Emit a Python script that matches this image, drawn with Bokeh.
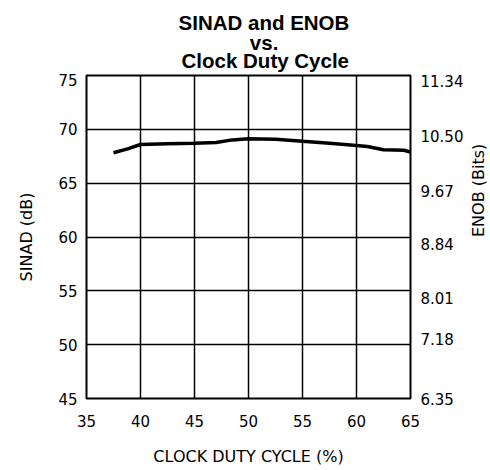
import math
from bokeh.plotting import figure
from bokeh.layouts import column
from bokeh.models import LinearAxis, Range1d, FixedTicker
from bokeh.core.properties import value
from bokeh.embed import file_html
from bokeh.resources import INLINE

# ---- data ----
duty_cycle = [37.5, 38.8, 40.0, 42.5, 45.0, 47.0, 48.5, 50.0, 52.5, 55.0,
              57.5, 60.0, 61.0, 62.5, 64.4, 65.0]
sinad_db = [67.82, 68.19, 68.59, 68.65, 68.71, 68.77, 69.02, 69.12, 69.09, 68.89,
            68.70, 68.50, 68.41, 68.10, 68.06, 67.88]

x_ticks = [35, 40, 45, 50, 55, 60, 65]
sinad_ticks = [45, 50, 55, 60, 65, 70, 75]
enob_labels = ["6.35", "7.18", "8.01", "8.84", "9.67", "10.50", "11.34"]
# where each ENOB label sits on the ENOB scale in the reference
enob_label_pos = [6.35, 7.263, 7.90, 8.74, 9.555, 10.40, 11.25]

title_lines = ["SINAD and ENOB", "vs.", "Clock Duty Cycle"]

W = 489
TITLE_H = 73

# ---- title strip (pixel coordinates, y downward) ----
tp = figure(width=W, height=TITLE_H, output_backend="svg", toolbar_location=None,
            x_range=Range1d(0, W), y_range=Range1d(TITLE_H, 0),
            min_border=0, x_axis_location=None, y_axis_location=None)
tp.outline_line_color = None
tp.xgrid.visible = False
tp.ygrid.visible = False
tp.background_fill_color = "white"
tp.border_fill_color = "white"
tp.text(x=[277.2, 277.5, 279.3], y=[21.7, 41.7, 60.0], text=title_lines,
        text_align="center", text_baseline="alphabetic",
        text_font=value("Liberation Sans"), text_font_style="bold",
        text_font_size=value("20.5px"), text_color="black")

# ---- main chart ----
p = figure(frame_width=324, frame_height=323, output_backend="svg", toolbar_location=None,
           x_range=Range1d(35, 65), y_range=Range1d(45, 75),
           min_border_left=86, min_border_right=W - 86 - 324,
           min_border_top=75 - TITLE_H, min_border_bottom=70,
           x_axis_label="CLOCK DUTY CYCLE (%)", y_axis_label="SINAD (dB)")
p.extra_y_ranges = {"enob": Range1d(6.35, 11.34)}

p.outline_line_color = "black"
p.outline_line_width = 2
p.background_fill_color = "white"
p.border_fill_color = "white"

tick_font = "DejaVu Sans"

p.xaxis.ticker = FixedTicker(ticks=x_ticks)
p.yaxis.ticker = FixedTicker(ticks=sinad_ticks)
p.xgrid.ticker = FixedTicker(ticks=x_ticks)
p.ygrid.ticker = FixedTicker(ticks=sinad_ticks)
for g in (p.xgrid, p.ygrid):
    g.grid_line_color = "black"
    g.grid_line_width = 1.5
    g.grid_line_alpha = 1.0


def style_axis(ax, label_standoff, axis_label_standoff):
    ax.axis_line_color = None
    ax.major_tick_line_color = None
    ax.minor_tick_line_color = None
    ax.major_tick_out = 0
    ax.major_tick_in = 0
    ax.minor_tick_out = 0
    ax.minor_tick_in = 0
    ax.major_label_text_font = tick_font
    ax.major_label_text_font_size = "15px"
    ax.major_label_text_color = "black"
    ax.major_label_standoff = label_standoff
    ax.axis_label_text_font = tick_font
    ax.axis_label_text_font_size = "16px"
    ax.axis_label_text_font_style = "normal"
    ax.axis_label_text_color = "black"
    ax.axis_label_standoff = axis_label_standoff


style_axis(p.xaxis[0], 16, 17)
style_axis(p.yaxis[0], 9, 19)

enob_axis = LinearAxis(y_range_name="enob", axis_label="ENOB (Bits)",
                       ticker=FixedTicker(ticks=enob_label_pos),
                       major_label_overrides={v: s for v, s in zip(enob_label_pos, enob_labels)})
style_axis(enob_axis, 10, 12)
enob_axis.axis_label_orientation = math.pi / 2
p.add_layout(enob_axis, "right")

p.line(duty_cycle, sinad_db, line_color="black", line_width=3.5)

layout = column(tp, p, spacing=0)
open("out.html", "w").write(file_html(layout, INLINE))
